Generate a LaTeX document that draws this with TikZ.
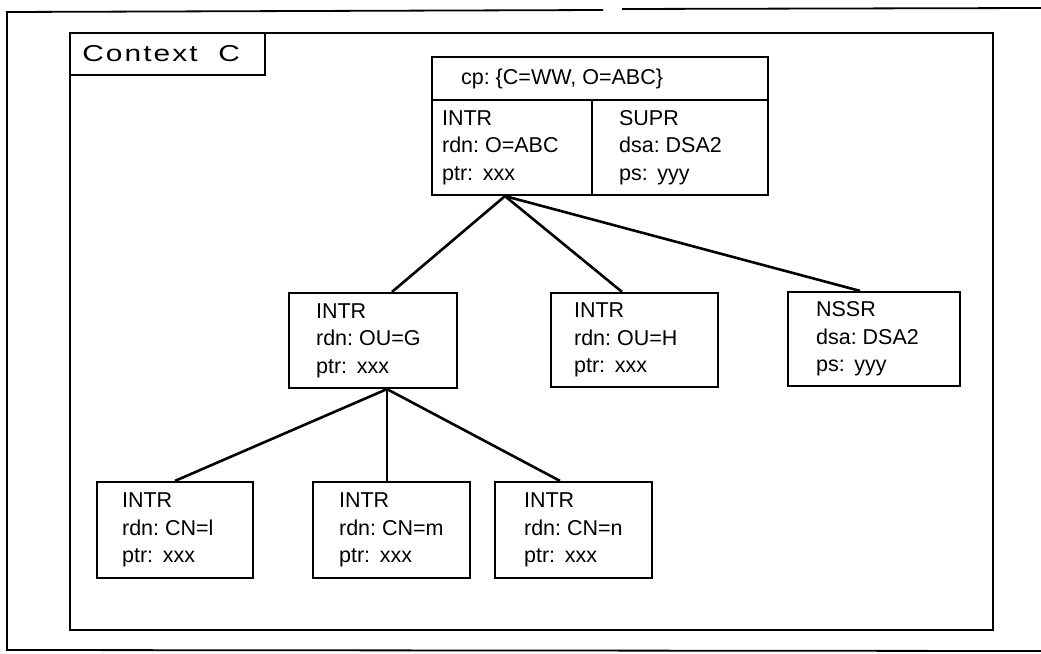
\documentclass[tikz,border=0pt]{standalone}
\usepackage{fontspec}
\setmainfont{Liberation Sans}
\usetikzlibrary{calc}
\newcommand{\wsp}{\hspace{0.45em}}
\begin{document}
\frenchspacing
\begin{tikzpicture}[x=1pt,y=-1pt,
  every node/.style={font=\fontsize{21.5}{27.5}\selectfont\frenchspacing},
  ibox/.style={draw,line width=2.2pt,inner sep=0pt,anchor=center},
  itext/.style={anchor=west,align=left,inner sep=0pt},
  conn/.style={line width=2.6pt},
  thinconn/.style={line width=1.4pt},
  frame/.style={line width=1.8pt}]
\useasboundingbox (0,0) rectangle (1041,653);
% outer frame
\draw[frame] (1041,8) -- (622,9);
\draw[frame] (603,10) -- (7,12) -- (7,650) -- (1041,651);
% inner frame
\node[draw,frame,minimum width=923pt,minimum height=597pt,inner sep=0pt] (inner) at (531.5,331.5) {};
\node[draw,frame,minimum width=195pt,minimum height=42pt,inner sep=0pt,anchor=north west] (ctx) at (inner.north west) {};
\node[itext,font=\fontsize{23}{26}\selectfont\addfontfeatures{FakeStretch=1.3,LetterSpace=9}] (ctxt) at ([xshift=13pt]ctx.west) {Context\ \ C};
% top node
\node[ibox,minimum width=336pt,minimum height=43pt] (tophead) at (600,78.5) {};
\node[ibox,minimum width=160pt,minimum height=95pt] (topL) at (512,147.5) {};
\node[ibox,minimum width=176pt,minimum height=95pt] (topR) at (680,147.5) {};
\node[itext] (topheadt) at ([xshift=30pt]tophead.west) {cp: \{C=WW, O=ABC\}};
\node[itext] (topLt) at ([xshift=11pt]topL.west) {INTR\\rdn: O=ABC\\ptr:\wsp xxx};
\node[itext] (topRt) at ([xshift=28pt]topR.west) {SUPR\\dsa: DSA2\\ps:\wsp yyy};
% middle row
\node[ibox,minimum width=168pt,minimum height=95pt] (midL) at (373,340.5) {};
\node[ibox,minimum width=167pt,minimum height=94pt] (midM) at (634.5,340) {};
\node[ibox,minimum width=172pt,minimum height=94pt] (midR) at (874,339) {};
\node[itext] (midLt) at ([xshift=28pt]midL.west) {INTR\\rdn: OU=G\\ptr:\wsp xxx};
\node[itext] (midMt) at ([xshift=24pt]midM.west) {INTR\\rdn: OU=H\\ptr:\wsp xxx};
\node[itext] (midRt) at ([xshift=29pt]midR.west) {NSSR\\dsa: DSA2\\ps:\wsp yyy};
% bottom row
\node[ibox,minimum width=156pt,minimum height=96pt] (b1) at (175,530) {};
\node[ibox,minimum width=157pt,minimum height=96pt] (b2) at (391.5,530) {};
\node[ibox,minimum width=157pt,minimum height=96pt] (b3) at (573.5,530) {};
\node[itext] (b1t) at ([xshift=26pt]b1.west) {INTR\\rdn: CN=l\\ptr:\wsp xxx};
\node[itext] (b2t) at ([xshift=27pt]b2.west) {INTR\\rdn: CN=m\\ptr:\wsp xxx};
\node[itext] (b3t) at ([xshift=30pt]b3.west) {INTR\\rdn: CN=n\\ptr:\wsp xxx};
% junctions
\coordinate (j1) at ($(topL.south)+(-7,0)$);
\coordinate (j2) at ($(midL.south)+(14,0)$);
% connectors
\draw[conn] (j1) -- ([xshift=19pt]midL.north);
\draw[conn] (j1) -- ([xshift=-12.5pt]midM.north);
\draw[conn] (j1) -- ([xshift=-14pt]midR.north);
\draw[conn] (j2) -- (b1.north);
\draw[thinconn] (j2) -- (b2.north -| j2);
\draw[conn] (j2) -- ([xshift=-13.5pt]b3.north);
\end{tikzpicture}
\end{document}
